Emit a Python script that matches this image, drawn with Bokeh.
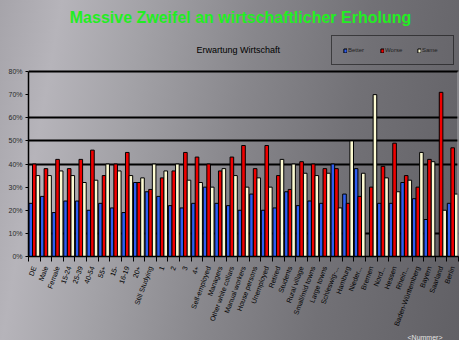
from bokeh.plotting import figure
from bokeh.models import ColumnDataSource, FixedTicker, Label, Legend, LegendItem, Title
from bokeh.transform import dodge
from bokeh.embed import file_html
from bokeh.resources import INLINE

categories = ["DE", "Male", "Female", "15-24", "25-39", "40-54", "55+", "15-", "16-19", "20+",
              "Still Studying", "1", "2", "3", "4+", "Self-employed", "Managers",
              "Other white collars", "Manual workers", "House persons", "Unemployed", "Retired",
              "Students", "Rural village", "Small/mid towns", "Large towns", "Schleswig-...",
              "Hamburg", "Nieder...", "Bremen", "Nord...", "Hessen", "Rhein...",
              "Baden-Württemberg", "Bayern", "Saarland", "Berlin"]
better = [23, 26, 19, 24, 24, 20, 23, 21, 19, 32, 28, 26, 22, 21, 23, 30, 23, 22, 20, 27,
          20, 21, 28, 22, 24, 23, 40, 27, 38, 0, 23, 23, 32, 25, 16, 0, 23]
worse = [40, 38, 42, 38, 42, 46, 35, 40, 45, 32, 29, 34, 37, 45, 43, 40, 37, 43, 48, 38,
         48, 35, 29, 41, 40, 38, 38, 23, 26, 30, 39, 49, 35, 30, 42, 71, 47]
same = [35, 35, 37, 35, 32, 33, 40, 37, 35, 34, 40, 37, 40, 33, 32, 30, 38, 35, 30, 34,
        30, 42, 40, 36, 35, 36, 21, 50, 36, 70, 34, 28, 33, 45, 41, 20, 27]
series_names = ["Better", "Worse", "Same"]
y_ticks = [0, 10, 20, 30, 40, 50, 60, 70, 80]
y_tick_labels = ["0%", "10%", "20%", "30%", "40%", "50%", "60%", "70%", "80%"]
grid_levels = [10, 40, 50, 60, 80]

FONT = "Liberation Sans"
n = len(categories)
xs = list(range(n))
src = ColumnDataSource(dict(x=xs, better=better, worse=worse, same=same))

# frame spans from the canvas top down to the x axis; the space above 80% holds titles/legend
y_top = 80 * 256 / 185.0
p = figure(width=459, height=340, x_range=(-0.5, n - 0.5), y_range=(0, y_top),
           output_backend="svg", toolbar_location=None,
           min_border_left=28, min_border_right=1, min_border_top=0, min_border_bottom=84)
p.background_fill_alpha = 0
p.border_fill_alpha = 0
p.outline_line_color = None
p.styles = {"background": "linear-gradient(100deg, #a6a4aa 0%, #b6b4ba 12%, #a3a2a7 28%, "
                          "#88878c 50%, #727176 72%, #616065 100%)"}

bw = 0.31
colors = ["#2f5ef0", "#f00000", "#fdfbd2"]
rs = []
for key, off, col in zip(["better", "worse", "same"], [-bw, 0, bw], colors):
    r = p.vbar(x=dodge("x", off, range=p.x_range), top=key, width=bw, source=src,
               fill_color=col, line_color="black", line_width=1)
    rs.append(r)

# right edge of the plot area (light line)
p.segment(x0=[n - 0.5], y0=[y_ticks[0]], x1=[n - 0.5], y1=[y_ticks[-1]],
          line_color="#a8a8ac", line_width=2)

# axes
p.xgrid.visible = False
p.ygrid.ticker = FixedTicker(ticks=grid_levels)
p.ygrid.grid_line_color = "black"
p.ygrid.grid_line_width = 1.8

p.yaxis.ticker = FixedTicker(ticks=y_ticks)
p.yaxis.bounds = (y_ticks[0], y_ticks[-1])
p.yaxis.major_label_overrides = {t: l for t, l in zip(y_ticks, y_tick_labels)}
p.yaxis.major_label_text_font = FONT
p.yaxis.major_label_text_font_size = "7px"
p.yaxis.major_label_text_color = "#2a2a2a"
p.yaxis.major_tick_out = 3
p.yaxis.major_tick_in = 0
p.yaxis.minor_tick_out = 0
p.yaxis.major_label_standoff = 3
p.yaxis.axis_line_color = "black"
p.yaxis.axis_line_width = 1.5
p.yaxis.major_tick_line_color = "black"

p.xaxis.ticker = FixedTicker(ticks=xs, minor_ticks=[i - 0.5 for i in range(n + 1)])
p.xaxis.major_label_overrides = {i: c for i, c in enumerate(categories)}
p.xaxis.major_label_orientation = 1.22
p.xaxis.major_label_text_font = FONT
p.xaxis.major_label_text_font_size = "7px"
p.xaxis.major_label_text_color = "black"
p.xaxis.major_label_standoff = 5
p.xaxis.major_tick_out = 0
p.xaxis.major_tick_in = 0
p.xaxis.minor_tick_out = 5
p.xaxis.minor_tick_in = 0
p.xaxis.minor_tick_line_color = "black"
p.xaxis.axis_line_color = "black"
p.xaxis.axis_line_width = 1.5

# texts
p.add_layout(Label(x=212, y=239, x_units="screen", y_units="screen",
                   text="Massive Zweifel an wirtschaftlicher Erholung",
                   text_font=FONT, text_font_size="16px", text_font_style="bold",
                   text_color="#22ee22", text_align="center", text_baseline="middle"))
p.add_layout(Label(x=211, y=207, x_units="screen", y_units="screen",
                   text="Erwartung  Wirtschaft", text_font=FONT, text_font_size="9px",
                   text_color="black", text_align="center", text_baseline="middle"))
p.add_layout(Title(text="<Nummer>", align="right", offset=16, standoff=0,
                   text_font=FONT, text_font_size="7px", text_font_style="normal",
                   text_color="#e4e4e4"), "below")

legend = Legend(items=[LegendItem(label=nm, renderers=[r]) for nm, r in zip(series_names, rs)],
                location=(303, 191), orientation="horizontal",
                border_line_color="black", border_line_width=1,
                background_fill_alpha=0, padding=11, margin=0, spacing=12,
                glyph_width=4, glyph_height=5, label_standoff=1,
                label_text_font=FONT, label_text_font_size="6px", label_text_color="#222222")
p.add_layout(legend)

open("out.html", "w").write(file_html(p, INLINE))
